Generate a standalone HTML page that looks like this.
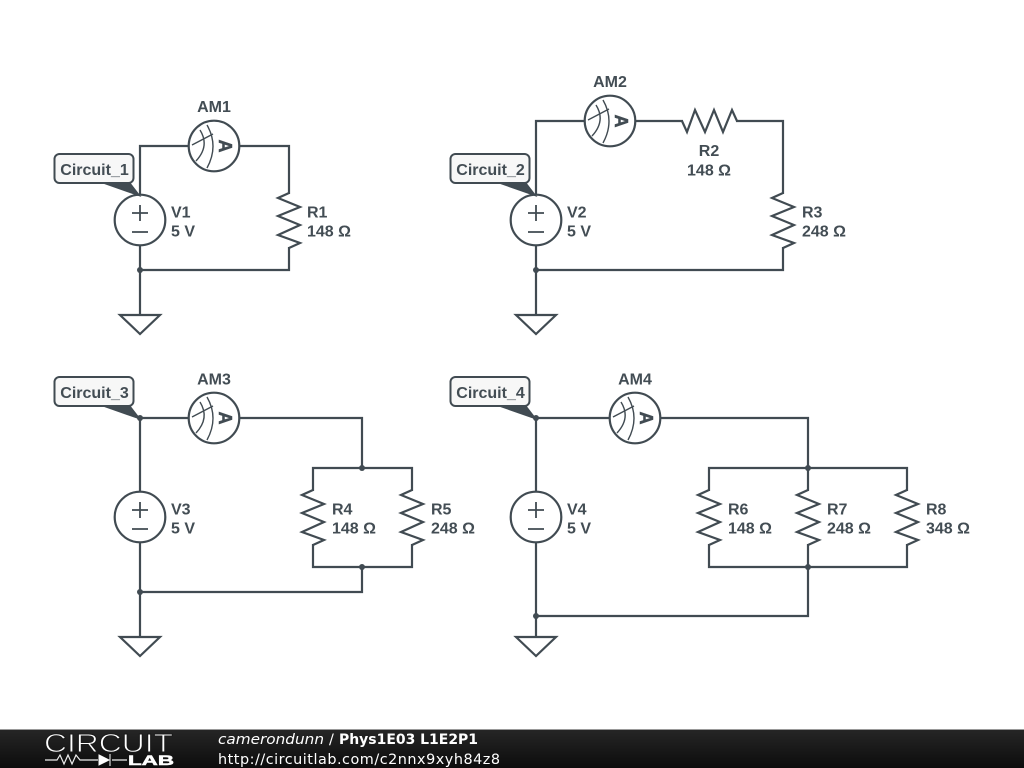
<!DOCTYPE html>
<html><head><meta charset="utf-8"><style>
html,body{margin:0;padding:0;background:#fff;width:1024px;height:768px;overflow:hidden}
svg{display:block}
.l{font:bold 16px "Liberation Sans",sans-serif;fill:#434d54}
.m{text-anchor:middle}
.w{fill:none;stroke:#414b52;stroke-width:2.2}
.f{font:14.4px "DejaVu Sans",sans-serif;fill:#fff}
</style></head><body>
<svg width="1024" height="768" viewBox="0 0 1024 768" xmlns="http://www.w3.org/2000/svg">
<defs>
<linearGradient id="g" x1="0" y1="0" x2="0" y2="1"><stop offset="0" stop-color="#262626"/><stop offset="1" stop-color="#0c0c0c"/></linearGradient>
<g id="am"><circle r="25.3" fill="#fff" stroke="#414b52" stroke-width="2.2"/>
<path d="M-7,-21 Q5,0 -7,22 M-14,-16 Q-4,0 -18,15 M-22,-1 L-1,-12" fill="none" stroke="#414b52" stroke-width="1.4"/>
<text transform="translate(5,0) rotate(90)" text-anchor="middle" style="font:bold 18px 'Liberation Sans',sans-serif;fill:#414b52;stroke:#414b52;stroke-width:.5">A</text></g>
<g id="v"><circle r="25.3" fill="#fff" stroke="#414b52" stroke-width="2.2"/>
<path d="M-8,-7 H8 M0,-15 V1 M-8,12 H8" fill="none" stroke="#414b52" stroke-width="1.8"/></g>
<path id="r" class="w" d="M0,-2 L-11,3 L11,12 L-11,21 L11,30 L-11,40 L11,48 L0,53"/>
<path id="gnd" d="M-20,0 H20 L0,19 Z" fill="#fff" stroke="#414b52" stroke-width="2.2"/>
<g id="tag"><path d="M49,29 L76,29 L86,42 Z" fill="#414b52" stroke="#414b52" stroke-width="1"/>
<rect x="0.5" y="0" width="79" height="29" rx="5" fill="#f7f7f7" stroke="#414b52" stroke-width="2"/></g>
</defs>

<!-- wires -->
<path class="w" d="M140,270 V146 H289 V270 H140 M140,270 V315"/>
<path class="w" d="M536,270 V121 H783 V270 H536 M536,270 V315"/>
<path class="w" d="M140,637 V418 H362 V468 M313,468 H412 V567 H313 Z M362,567 V592 H140"/>
<path class="w" d="M536,637 V418 H808 V468 M709,468 H907 V567 H709 Z M808,468 V567 V616 H536"/>

<!-- resistor gaps -->
<g fill="#fff">
<rect x="280" y="194" width="18" height="53"/><rect x="774" y="194" width="18" height="53"/>
<rect x="683" y="112" width="53" height="18"/>
<rect x="304" y="491" width="18" height="53"/><rect x="403" y="491" width="18" height="53"/>
<rect x="700" y="491" width="18" height="53"/><rect x="799" y="491" width="18" height="53"/><rect x="898" y="491" width="18" height="53"/>
</g>
<use href="#r" x="289" y="195"/>
<use href="#r" x="783" y="195"/>
<use href="#r" transform="translate(735,121) rotate(90)"/>
<use href="#r" x="313" y="492"/><use href="#r" x="412" y="492"/>
<use href="#r" x="709" y="492"/><use href="#r" x="808" y="492"/><use href="#r" x="907" y="492"/>

<!-- junctions -->
<g fill="#414b52">
<circle cx="140" cy="270" r="3"/><circle cx="536" cy="270" r="3"/>
<circle cx="140" cy="418" r="3"/><circle cx="362" cy="468" r="3"/><circle cx="362" cy="567" r="3"/><circle cx="140" cy="592" r="3"/>
<circle cx="536" cy="418" r="3"/><circle cx="808" cy="468" r="3"/><circle cx="808" cy="567" r="3"/><circle cx="536" cy="616" r="3"/>
</g>

<!-- sources, meters, grounds -->
<use href="#v" x="140" y="220"/><use href="#v" x="536" y="220"/><use href="#v" x="140" y="517"/><use href="#v" x="536" y="517"/>
<use href="#am" x="214" y="146"/><use href="#am" x="610" y="121"/><use href="#am" x="214" y="418"/><use href="#am" x="635" y="418"/>
<use href="#gnd" x="140" y="315"/><use href="#gnd" x="536" y="315"/><use href="#gnd" x="140" y="637"/><use href="#gnd" x="536" y="637"/>

<!-- tags -->
<use href="#tag" x="54" y="154"/><use href="#tag" x="450" y="154"/><use href="#tag" x="54" y="377"/><use href="#tag" x="450" y="377"/>
<text x="94.5" y="175" class="l m">Circuit_1</text><text x="490.5" y="175" class="l m">Circuit_2</text>
<text x="94.5" y="398" class="l m">Circuit_3</text><text x="490.5" y="398" class="l m">Circuit_4</text>
<text x="214" y="112" class="l m">AM1</text><text x="610" y="87" class="l m">AM2</text>
<text x="214" y="384.5" class="l m">AM3</text><text x="635" y="384.5" class="l m">AM4</text>
<text x="709" y="156" class="l m">R2</text><text x="709" y="175.5" class="l m">148 Ω</text>
<text x="171" y="217.5" class="l">V1</text><text x="171" y="236.5" class="l">5 V</text>
<text x="567" y="217.5" class="l">V2</text><text x="567" y="236.5" class="l">5 V</text>
<text x="171" y="514.5" class="l">V3</text><text x="171" y="533.5" class="l">5 V</text>
<text x="567" y="514.5" class="l">V4</text><text x="567" y="533.5" class="l">5 V</text>
<text x="307" y="217.5" class="l">R1</text><text x="307" y="236.5" class="l">148 Ω</text>
<text x="802" y="217.5" class="l">R3</text><text x="802" y="236.5" class="l">248 Ω</text>
<text x="332" y="514.5" class="l">R4</text><text x="332" y="533.5" class="l">148 Ω</text>
<text x="431" y="514.5" class="l">R5</text><text x="431" y="533.5" class="l">248 Ω</text>
<text x="728" y="514.5" class="l">R6</text><text x="728" y="533.5" class="l">148 Ω</text>
<text x="827" y="514.5" class="l">R7</text><text x="827" y="533.5" class="l">248 Ω</text>
<text x="926" y="514.5" class="l">R8</text><text x="926" y="533.5" class="l">348 Ω</text>

<!-- footer -->
<rect x="0" y="729" width="1024" height="39" fill="url(#g)"/>
<rect x="0" y="729" width="1024" height="1" fill="#999"/>
<text x="44" y="752" textLength="129" lengthAdjust="spacingAndGlyphs" style="font:26px 'Liberation Sans',sans-serif;fill:#fff;stroke:#1a1a1a;stroke-width:.9">CIRCUIT</text>
<text x="128" y="765" textLength="46" lengthAdjust="spacingAndGlyphs" style="font:bold 13.5px 'Liberation Sans',sans-serif;fill:#fff;stroke:#fff;stroke-width:.5">LAB</text>
<path d="M45,760 H57 L60,755 L64,764 L68,755 L72,764 L76,755 L80,760 H98 M112,760 H127" fill="none" stroke="#eee" stroke-width="1.2"/>
<path d="M99,755 L109,760 L99,765 Z M110,754 V766" fill="#fff" stroke="#fff" stroke-width="1"/>
<text x="218" y="744" class="f" style="font-style:italic" textLength="106" lengthAdjust="spacingAndGlyphs">camerondunn</text>
<text x="329" y="744" class="f">/</text>
<text x="339" y="744" class="f" style="font-weight:bold" textLength="139" lengthAdjust="spacingAndGlyphs">Phys1E03 L1E2P1</text>
<text x="218" y="764" class="f" textLength="282">http://circuitlab.com/c2nnx9xyh84z8</text>
</svg>
</body></html>
